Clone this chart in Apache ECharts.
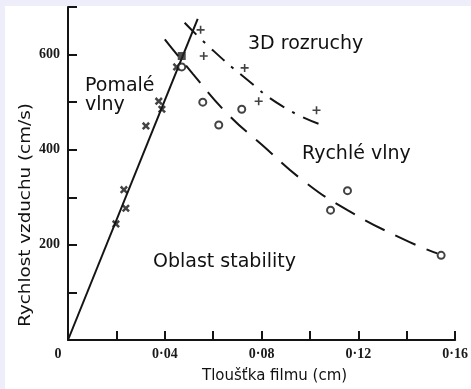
<!DOCTYPE html>
<html>
<head>
<meta charset="utf-8">
<script src="https://cdn.jsdelivr.net/npm/echarts@6/dist/echarts.min.js"></script>
<style>
html,body{margin:0;padding:0;background:#fff;}
#c{width:471px;height:389px;}
</style>
</head>
<body>
<div id="c"></div>
<script>
// Tick labels
var xTickLabels = ['0', '0·04', '0·08', '0·12', '0·16'];
var yTickLabels = ['200', '400', '600'];

// Measured points [film thickness (cm), air velocity (cm/s)]
var slowWaves = [[0.0198, 244], [0.0231, 316], [0.0239, 277], [0.0322, 450], [0.0375, 502], [0.0388, 485], [0.0449, 574]];
var fastWaves = [[0.0470, 574], [0.0557, 500], [0.0623, 452], [0.0718, 485], [0.1085, 273], [0.1155, 314], [0.1542, 178]];
var disturb3D = [[0.0548, 652], [0.0561, 597], [0.0730, 572], [0.0788, 502], [0.1027, 483]];
var transition = [[0.0470, 597]];

// Boundary curves
var slowLine = [[0, 0], [0.0536, 675]];
var fastCurve = [[0.0400, 632], [0.0515, 560], [0.0656, 477], [0.0800, 411], [0.0977, 333], [0.1155, 273], [0.1381, 213], [0.1526, 182]];
var curve3D = [[0.0482, 667], [0.0586, 615], [0.0722, 555], [0.0887, 491], [0.1039, 454]];

// Region labels
var regionLabels = [
  { text: 'Pomalé', x: 85, y: 86 },
  { text: 'vlny', x: 85, y: 105 },
  { text: '3D rozruchy', x: 248, y: 44 },
  { text: 'Rychlé vlny', x: 302, y: 154 },
  { text: 'Oblast stability', x: 153, y: 262 }
];

var ink = '#141414';
var plusPath = 'path://M4,0H6V4H10V6H6V10H4V6H0V4H4Z';
var crossPath = 'path://M3.6,0H6.4V3.6H10V6.4H6.4V10H3.6V6.4H0V3.6H3.6Z';

var chart = echarts.init(document.getElementById('c'), null, { renderer: 'canvas' });

var graphics = [
  { type: 'rect', shape: { x: 0, y: 0, width: 471, height: 6 }, style: { fill: '#eeeefb' }, z: 0 },
  { type: 'rect', shape: { x: 0, y: 0, width: 5, height: 389 }, style: { fill: '#eeeefb' }, z: 0 },
  {
    type: 'text', x: 26, y: 215, rotation: Math.PI / 2, scaleX: 1.22, z: 10,
    style: { text: 'Rychlost vzduchu (cm/s)', fill: '#111', font: '15px "DejaVu Sans"', textAlign: 'center', textVerticalAlign: 'middle' }
  }
];
regionLabels.forEach(function (l) {
  graphics.push({
    type: 'text', x: l.x, y: l.y, z: 10,
    style: { text: l.text, fill: '#111', font: '19px "DejaVu Sans"', textAlign: 'left', textVerticalAlign: 'middle' }
  });
});

var serif = 'Liberation Serif';

chart.setOption({
  animation: false,
  backgroundColor: 'transparent',
  grid: { left: 68, top: 7, right: 15, bottom: 43, containLabel: false },
  xAxis: {
    type: 'value', min: 0, max: 0.16, interval: 0.02,
    name: 'Tloušťka filmu (cm)', nameLocation: 'middle', nameGap: 29,
    nameTextStyle: { fontFamily: 'DejaVu Sans', fontSize: 15, color: '#111', padding: [0, 0, 0, 26] },
    axisLine: { lineStyle: { color: ink, width: 2 } },
    axisTick: { inside: true, length: 9, lineStyle: { color: ink, width: 2 } },
    splitLine: { show: false },
    axisLabel: {
      margin: 7, fontFamily: serif, fontSize: 14, fontWeight: 'bold', color: '#1a1a1a',
      formatter: function (v, i) {
        var k = Math.round(v / 0.02);
        if (k % 2 !== 0) return '';
        var t = xTickLabels[k / 2];
        return k === 0 ? '{z|' + t + '}' : t;
      },
      rich: { z: { fontFamily: serif, fontSize: 14, fontWeight: 'bold', color: '#1a1a1a', padding: [0, 20, 0, 0] } }
    }
  },
  yAxis: {
    type: 'value', min: 0, max: 700, interval: 100,
    axisLine: { show: true, lineStyle: { color: ink, width: 2 } },
    axisTick: { show: true, inside: true, length: 9, lineStyle: { color: ink, width: 2 } },
    splitLine: { show: false },
    axisLabel: {
      margin: 8, fontFamily: serif, fontSize: 14, fontWeight: 'bold', color: '#1a1a1a',
      formatter: function (v) {
        var s = String(v);
        return yTickLabels.indexOf(s) >= 0 ? s : '';
      }
    }
  },
  graphic: graphics,
  series: [
    { type: 'line', data: slowLine, showSymbol: false, lineStyle: { color: ink, width: 2 }, z: 3 },
    { type: 'line', data: fastCurve, smooth: true, showSymbol: false, lineStyle: { color: ink, width: 2, type: [22, 12] }, z: 3 },
    { type: 'line', data: curve3D, smooth: true, showSymbol: false, lineStyle: { color: ink, width: 2, type: [17, 9, 3, 9] }, z: 3 },
    { type: 'scatter', data: slowWaves, symbol: crossPath, symbolSize: 9, symbolRotate: 45, itemStyle: { color: ink }, z: 4 },
    { type: 'scatter', data: disturb3D, symbol: plusPath, symbolSize: 8, itemStyle: { color: ink }, z: 4 },
    { type: 'scatter', data: fastWaves, symbol: 'emptyCircle', symbolSize: 7, itemStyle: { color: ink, borderColor: ink, borderWidth: 1.6 }, z: 4 },
    { type: 'scatter', data: transition, symbol: 'rect', symbolSize: 8, itemStyle: { color: '#222' }, z: 4 }
  ]
});
</script>
</body>
</html>
